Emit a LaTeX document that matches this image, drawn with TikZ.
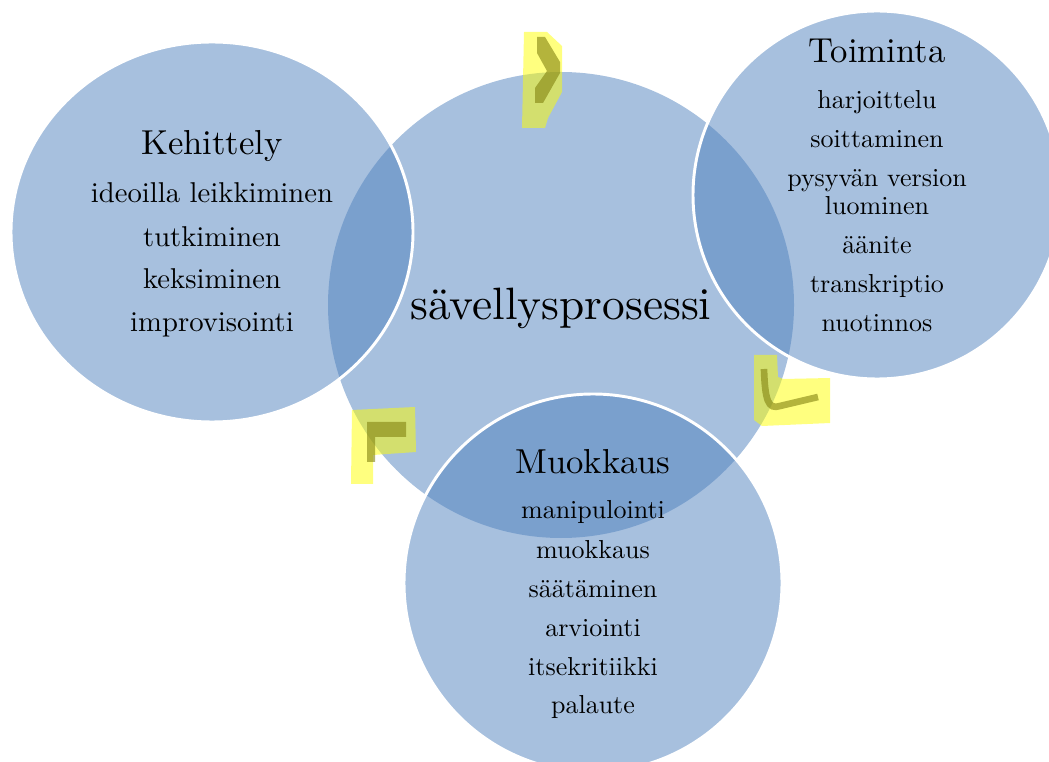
\documentclass[tikz,border=0pt]{standalone}
\usepackage{fontspec}
\setmainfont{lmroman10-regular.otf}
\usepackage{tikz}
\definecolor{vennsininen}{RGB}{79,129,189}
\definecolor{korostus}{RGB}{255,255,0}
\definecolor{korostustumma}{RGB}{130,130,15}
\begin{document}
\begin{tikzpicture}[x=0.75pt,y=-0.75pt,
  ympyra/.style={fill=vennsininen,fill opacity=0.5},
  reuna/.style={ympyra,draw=white,draw opacity=1,line width=2.2pt},
  otsikko/.style={anchor=base,font=\fontsize{26}{30}\selectfont},
  rivi/.style={anchor=base,font=\fontsize{19.5}{23}\selectfont},
  merkki/.style={fill=korostus,fill opacity=0.5},
  merkkitumma/.style={fill=korostustumma,fill opacity=0.6},
  viivatumma/.style={draw=korostustumma,draw opacity=0.6,line width=5pt}]
	\useasboundingbox (0,0) rectangle (1049,762);
	\clip (0,0) rectangle (1049,762);
	\fill[ympyra] (561,305) circle (233);
	\filldraw[reuna] (212,232) ellipse (201 and 190);
	\filldraw[reuna] (877,195) circle (184);
	\filldraw[reuna] (593,583) circle (189);
	\node[anchor=base,font=\fontsize{34}{38}\selectfont] (prosessi) at (561,320) {sävellysprosessi};
	\node[otsikko] (kehittely) at (212,155) {Kehittely};
	\node[rivi,font=\fontsize{21.5}{25}\selectfont] (ideoilla) at (212,203) {ideoilla leikkiminen};
	\node[rivi,font=\fontsize{21.5}{25}\selectfont] (tutkiminen) at (212,247) {tutkiminen};
	\node[rivi,font=\fontsize{21.5}{25}\selectfont] (keksiminen) at (212,289) {keksiminen};
	\node[rivi,font=\fontsize{21.5}{25}\selectfont] (improvisointi) at (212,332) {improvisointi};
	\node[otsikko] (toiminta) at (877,63) {Toiminta};
	\node[rivi] (harjoittelu) at (877,109) {harjoittelu};
	\node[rivi] (soittaminen) at (877,148) {soittaminen};
	\node[rivi] (pysyvan) at (877,187) {pysyvän version};
	\node[rivi] (luominen) at (877,215) {luominen};
	\node[rivi] (aanite) at (877,254) {äänite};
	\node[rivi] (transkriptio) at (877,293) {transkriptio};
	\node[rivi] (nuotinnos) at (877,332) {nuotinnos};
	\node[otsikko] (muokkaus) at (593,474) {Muokkaus};
	\node[rivi] (manipulointi) at (593,518) {manipulointi};
	\node[rivi] (muokkausrivi) at (593,558) {muokkaus};
	\node[rivi] (saataminen) at (593,597) {säätäminen};
	\node[rivi] (arviointi) at (593,636) {arviointi};
	\node[rivi] (itsekritiikki) at (593,675) {itsekritiikki};
	\node[rivi] (palaute) at (593,713) {palaute};
	\fill[merkki] (524,32) -- (547,32) -- (562,46) -- (562,92) -- (548,118) -- (545,128) -- (522,128) -- cycle;
	\fill[merkkitumma] (537,37) -- (545,37) -- (560,62) -- (560,73) -- (543,103) -- (535,103) -- (535,88) -- (547,71) -- (537,53) -- cycle;
	\fill[merkki] (754,355) -- (777,355) -- (778,377) -- (783,379) -- (830,378) -- (830,423) -- (762,426) -- (754,420) -- cycle;
	\draw[viivatumma] (764,369) .. controls (765,400) and (768,410) .. (780,406) -- (818,397);
	\fill[merkki] (352,410) -- (415,407) -- (416,452) -- (373,455) -- (373,484) -- (351,484) -- cycle;
	\fill[merkkitumma] (367,422) -- (406,422) -- (406,437) -- (375,437) -- (375,462) -- (367,462) -- cycle;
\end{tikzpicture}
\end{document}
